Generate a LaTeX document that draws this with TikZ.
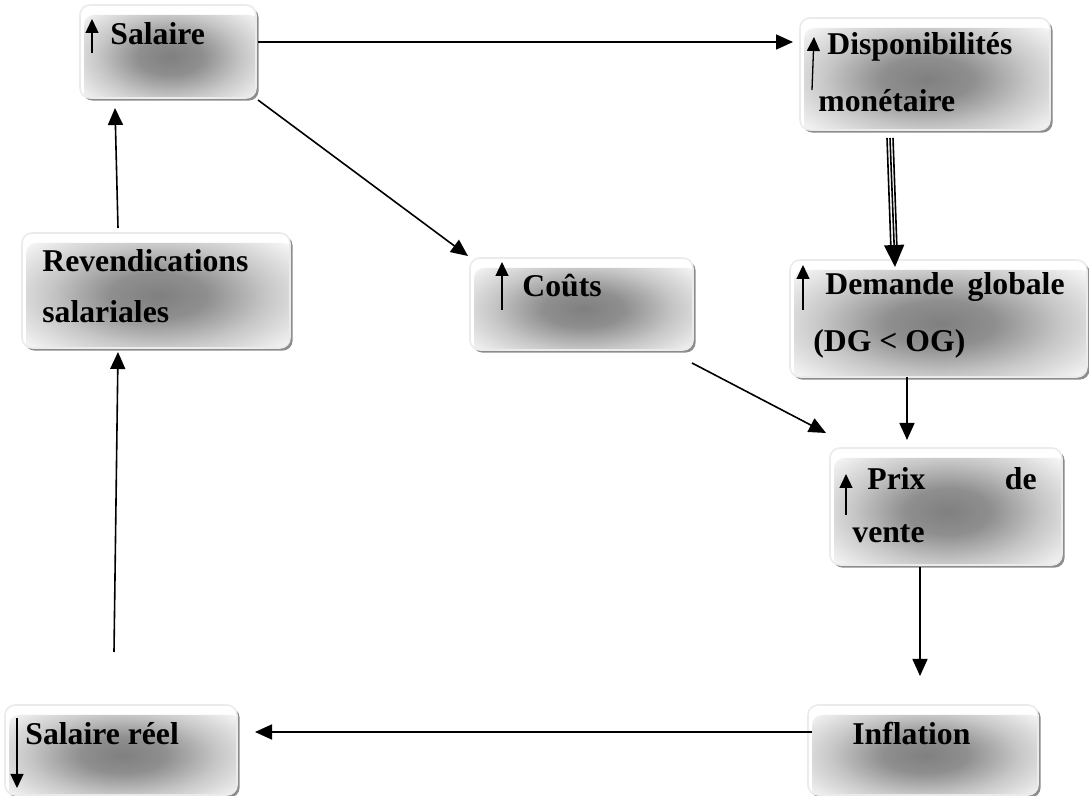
\documentclass[tikz,border=0pt]{standalone}
\usepackage{fontspec}
\setmainfont{Liberation Serif}
\usetikzlibrary{arrows.meta,shadows}
\pgfdeclareradialshading{blob}{\pgfpoint{0bp}{0bp}}{color(0bp)=(black!50); color(9bp)=(black!44); color(20bp)=(black!22); color(34bp)=(white); color(50bp)=(white)}
\begin{document}
\begin{tikzpicture}[x=0.5pt,y=-0.5pt,
  boxstyle/.style={rounded corners=5pt, fill=white, draw=black!8, line width=0.8pt,
    drop shadow={shadow xshift=1.3pt,shadow yshift=-1.3pt,fill=black!45,opacity=1},
    path picture={\shade[shading=blob] ([shift={(2pt,-5pt)}]path picture bounding box.south west) rectangle ([shift={(2pt,-5pt)}]path picture bounding box.north east);}},
  lbl/.style={font=\bfseries\fontsize{15.85}{19}\selectfont, anchor=base west, inner sep=0pt},
  lble/.style={lbl, anchor=base east},
  conn/.style={line width=0.8pt, -{Triangle[length=8.5pt,width=7.5pt]}},
  bigconn/.style={line width=0.8pt, -{Triangle[length=11pt,width=10pt]}},
  thin/.style={line width=0.8pt},
  uparrow/.style={line width=0.65pt, -{Triangle[length=7pt,width=6.5pt]}}]
\useasboundingbox (0,0) rectangle (1089,796);

% boxes
\node[boxstyle, minimum width=88pt, minimum height=46.5pt] (sal) at (168,51.5) {};
\node[boxstyle, minimum width=125pt, minimum height=56pt] (dis) at (925,74) {};
\node[boxstyle, minimum width=148.5pt, minimum height=58.5pt] (dem) at (938.5,318.5) {};
\node[boxstyle, minimum width=116pt, minimum height=58.5pt] (prix) at (946,506.5) {};
\node[boxstyle, minimum width=116pt, minimum height=45pt] (sr) at (121,750) {};
\node[boxstyle, minimum width=115pt, minimum height=45pt] (inf) at (923,750) {};
\node[boxstyle, minimum width=134pt, minimum height=57.5pt] (rev) at (156,290.5) {};
\node[boxstyle, minimum width=111.5pt, minimum height=46pt] (cou) at (581.5,304) {};

% labels
\node[lbl] (tsal) at (110,45) {Salaire};
\node[lbl] (tdis1) at (827,55) {Disponibilités};
\node[lbl] (tdis2) at (818,112) {monétaire};
\node[lbl] (tdem1) at (825,295) {Demande};
\node[lble] (tdem2) at (1065,295) {globale};
\node[lbl] (tdem3) at (813,352) {(DG < OG)};
\node[lbl] (tprix1) at (867,490) {Prix};
\node[lble] (tprix2) at (1037,490) {de};
\node[lbl] (tprix3) at (852,543) {vente};
\node[lbl] (tsr) at (25,745) {Salaire réel};
\node[lbl] (tinf) at (852,745) {Inflation};
\node[lbl] (trev1) at (42,272) {Revendications};
\node[lbl] (trev2) at (42,323) {salariales};
\node[lbl] (tcou) at (522,297) {Coûts};

% small in-box arrows
\coordinate (a1s) at (92,53); \coordinate (a1e) at (92,19);
\coordinate (a2s) at (812,90); \coordinate (a2e) at (814,37);
\coordinate (a3s) at (803,310); \coordinate (a3e) at (803,265);
\coordinate (a4s) at (846,515); \coordinate (a4e) at (846,474);
\coordinate (a5s) at (502,310); \coordinate (a5e) at (502,262);
\coordinate (a6s) at (17,718); \coordinate (a6e) at (17,788);
\draw[uparrow] (a1s) -- (a1e);
\draw[uparrow] (a2s) -- (a2e);
\draw[uparrow] (a3s) -- (a3e);
\draw[uparrow] (a4s) -- (a4e);
\draw[uparrow] (a5s) -- (a5e);
\draw[uparrow] (a6s) -- (a6e);

% connector end points
\coordinate (c1s) at (258,42);  \coordinate (c1e) at (793,42);
\coordinate (c2s) at (258,100); \coordinate (c2e) at (468,256);
\coordinate (c3s) at (118,228); \coordinate (c3e) at (115,108);
\coordinate (c4s) at (114,652); \coordinate (c4e) at (118,352);
\coordinate (c5s) at (907,377); \coordinate (c5e) at (907,440);
\coordinate (c6s) at (692,363); \coordinate (c6e) at (826,433);
\coordinate (c7s) at (920,567); \coordinate (c7e) at (920,676);
\coordinate (c8s) at (812,732); \coordinate (c8e) at (255,732);
\coordinate (t1s) at (887,138); \coordinate (t1e) at (891,250);
\coordinate (t2s) at (890,138); \coordinate (t2e) at (895,267);
\coordinate (t3s) at (893,138); \coordinate (t3e) at (897,250);

\draw[conn] (c1s) -- (c1e);
\draw[conn] (c2s) -- (c2e);
\draw[conn] (c3s) -- (c3e);
\draw[conn] (c4s) -- (c4e);
\draw[conn] (c5s) -- (c5e);
\draw[conn] (c6s) -- (c6e);
\draw[conn] (c7s) -- (c7e);
\draw[conn] (c8s) -- (c8e);
\draw[thin] (t1s) -- (t1e);
\draw[thin] (t3s) -- (t3e);
\draw[bigconn] (t2s) -- (t2e);
\end{tikzpicture}
\end{document}
